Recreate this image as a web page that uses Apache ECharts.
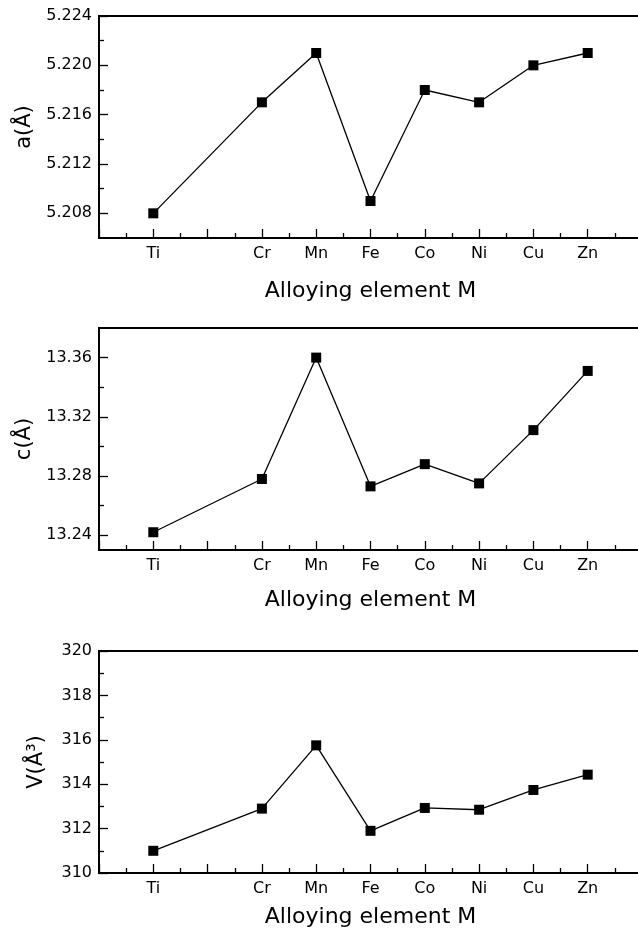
<!DOCTYPE html>
<html>
<head>
<meta charset="utf-8">
<script src="https://cdn.jsdelivr.net/npm/echarts@6/dist/echarts.min.js"></script>
<style>
  html, body { margin: 0; padding: 0; background: #fff; }
  #main { width: 638px; height: 940px; }
</style>
</head>
<body>
<div id="main"></div>
<script>
// element symbols and their atomic numbers (x positions)
var elements = ['Ti', 'Cr', 'Mn', 'Fe', 'Co', 'Ni', 'Cu', 'Zn'];
var atomicNumbers = [22, 24, 25, 26, 27, 28, 29, 30];

// lattice parameters
var aValues = [5.208, 5.217, 5.221, 5.209, 5.218, 5.217, 5.220, 5.221];
var cValues = [13.242, 13.278, 13.360, 13.273, 13.288, 13.275, 13.311, 13.351];
var vValues = [311.0, 312.9, 315.75, 311.9, 312.93, 312.85, 313.74, 314.43];

// y tick labels (major) and the minor ticks between them
var aTicks = [5.208, 5.212, 5.216, 5.220, 5.224];
var aMinor = [5.210, 5.214, 5.218, 5.222];
var cTicks = [13.24, 13.28, 13.32, 13.36];
var cMinor = [13.26, 13.30, 13.34];
var vTicks = [310, 312, 314, 316, 318, 320];
var vMinor = [311, 313, 315, 317, 319];

var FONT = 'DejaVu Sans';

var panels = [
  { name: 'a(Å)', data: aValues, ticks: aTicks, minor: aMinor, min: 5.206, max: 5.224, digits: 3, top: 16, gap: 63, xgap: 42 },
  { name: 'c(Å)', data: cValues, ticks: cTicks, minor: cMinor, min: 13.23, max: 13.38, digits: 2, top: 328, gap: 63, xgap: 39 },
  { name: 'V(Å³)', data: vValues, ticks: vTicks, minor: vMinor, min: 310, max: 320, digits: 0, top: 651, gap: 52, xgap: 33 }
];

function labelFor(v) {
  var i = atomicNumbers.indexOf(Math.round(v));
  return i >= 0 ? elements[i] : '';
}

var grids = [], xAxes = [], yAxes = [], series = [];
panels.forEach(function (p, k) {
  grids.push({
    left: 99, top: p.top, width: 543, height: 222,
    outerBoundsMode: 'none',
    show: true, borderColor: '#000', borderWidth: 1.8, backgroundColor: 'transparent'
  });
  xAxes.push({
    type: 'value', gridIndex: k, min: 21, max: 31, interval: 1,
    name: 'Alloying element M', nameLocation: 'middle', nameGap: p.xgap,
    nameTextStyle: { fontFamily: FONT, fontSize: 22, color: '#000' },
    axisLine: { lineStyle: { color: '#000', width: 1.8 } },
    axisTick: { inside: true, length: 9, lineStyle: { color: '#000', width: 1.3 } },
    minorTick: { show: true, splitNumber: 2, length: 5, lineStyle: { color: '#000', width: 1.3 } },
    axisLabel: { margin: 8, fontFamily: FONT, fontSize: 16, color: '#000', formatter: labelFor },
    splitLine: { show: false }
  });
  // major ticks + labels
  yAxes.push({
    type: 'value', gridIndex: k, min: p.min, max: p.max,
    name: p.name, nameLocation: 'middle', nameGap: p.gap,
    nameTextStyle: { fontFamily: FONT, fontSize: 21, color: '#000' },
    axisLine: { show: true, lineStyle: { color: '#000', width: 1.8 } },
    axisTick: { inside: true, length: 9, customValues: p.ticks, lineStyle: { color: '#000', width: 1.3 } },
    axisLabel: {
      margin: 7, fontFamily: FONT, fontSize: 16, color: '#000', customValues: p.ticks,
      formatter: function (v) { return v.toFixed(p.digits); }
    },
    splitLine: { show: false }
  });
  // minor ticks
  yAxes.push({
    type: 'value', gridIndex: k, min: p.min, max: p.max, position: 'left',
    axisLine: { show: false },
    axisTick: { show: true, inside: true, length: 5, customValues: p.minor, lineStyle: { color: '#000', width: 1.3 } },
    axisLabel: { show: false },
    splitLine: { show: false }
  });
  series.push({
    type: 'line', xAxisIndex: k, yAxisIndex: 2 * k,
    data: atomicNumbers.map(function (z, i) { return [z, p.data[i]]; }),
    symbol: 'rect', symbolSize: 10,
    itemStyle: { color: '#000' },
    lineStyle: { color: '#000', width: 1.3 },
    animation: false
  });
});

var chart = echarts.init(document.getElementById('main'));
chart.setOption({
  backgroundColor: '#fff',
  animation: false,
  grid: grids,
  xAxis: xAxes,
  yAxis: yAxes,
  series: series
});
</script>
</body>
</html>
